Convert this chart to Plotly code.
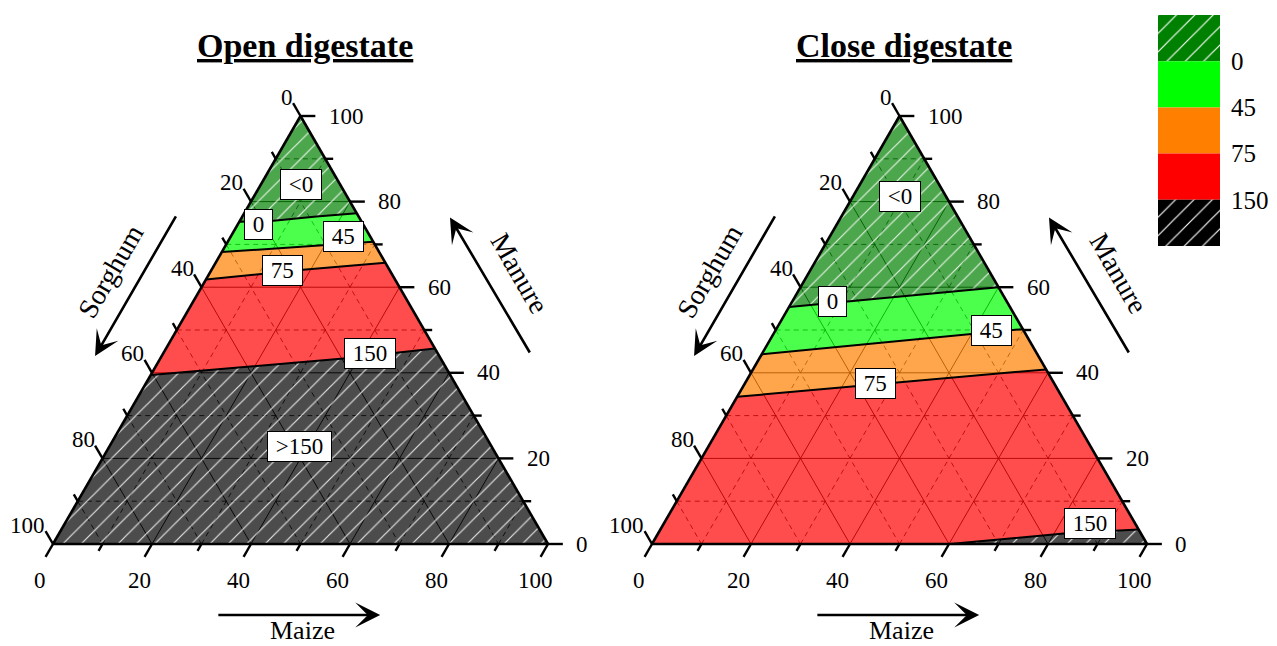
import plotly.graph_objects as go

W, H = 1277, 646
FONT = "Liberation Serif, Times New Roman, serif"

# ---------------- data ----------------
tick_major = [0, 20, 40, 60, 80, 100]
tick_minor = [10, 30, 50, 70, 90]
grid_solid = [20, 40, 60, 80]
grid_dash = [10, 30, 50, 70, 90]

legend_bounds = ["0", "45", "75", "150"]
region_colors = ["#008000", "#00ff00", "#ff8000", "#ff0000", "#000000"]
region_hatch = ["/", "", "", "", "/"]

# Open digestate iso-lines: (Maize %, Manure %) from left edge to right edge
open_iso_maize = [[0, 6.8, 15.0, 22.7], [0, 15.2, 29.4], [0, 17.9, 34.3], [0, 37.6, 54.3]]
open_iso_manure = [[75.3, 75.5, 76.5, 77.3], [68.2, 69.5, 70.6], [61.8, 64.0, 65.7], [39.5, 43.4, 45.7]]
open_label_text = ["&lt;0", "0", "45", "75", "150", "&gt;150"]
open_label_maize = [8.15, 4.15, 22.8, 14.4, 41.8, 38.45]
open_label_manure = [84.1, 74.7, 71.8, 64.0, 44.6, 22.7]

# Close digestate iso-lines
close_iso_maize = [[0, 21.2, 40.0], [0, 21.3, 49.8], [0, 32.5, 59.2], [60.2, 82.5, 96.6]]
close_iso_manure = [[55.4, 57.8, 60.0], [44.3, 46.9, 50.2], [34.4, 37.9, 40.8], [0, 2.5, 3.4]]
close_label_text = ["&lt;0", "0", "45", "75", "150"]
close_label_maize = [9.55, 8.1, 43.55, 26.35, 86.1]
close_label_manure = [81.1, 56.6, 49.9, 37.5, 4.8]

titles = ["Open digestate", "Close digestate"]
axis_names = ["Sorghum", "Manure", "Maize"]

# ---------------- helpers ----------------
def xy(m, a):
    return m + a / 2.0, a

CORNER = {0: (0.0, 100.0), 1: (100.0, 0.0), 2: (0.0, 0.0)}

def edge_pos(m, a):
    s = 100 - m - a
    if abs(s) < 1e-6:
        return (100 - a) / 100.0
    if abs(a) < 1e-6:
        return 1 + (100 - m) / 100.0
    return 2 + a / 100.0

def walk(s1, s2):
    d = (s2 - s1) % 3
    pts = []
    for k in (1, 2, 3):
        off = (k - s1) % 3
        if 0 < off < d:
            pts.append((off, CORNER[k % 3]))
    pts.sort()
    return [p for _, p in pts]

def region(upper, lower):
    if upper is None:
        return lower[::-1] + walk(edge_pos(*lower[0]), edge_pos(*lower[-1]))
    if lower is None:
        return upper + walk(edge_pos(*upper[-1]), edge_pos(*upper[0]))
    return (upper + walk(edge_pos(*upper[-1]), edge_pos(*lower[-1])) + lower[::-1]
            + walk(edge_pos(*lower[0]), edge_pos(*upper[0])))

def rgba(h, al):
    h = h.lstrip("#")
    return "rgba(%d,%d,%d,%.2f)" % (int(h[0:2], 16), int(h[2:4], 16), int(h[4:6], 16), al)

def seg_trace(segs, xa, ya, width, dash="solid", color="black"):
    X, Y = [], []
    for (m1, a1), (m2, a2) in segs:
        x1, y1 = xy(m1, a1)
        x2, y2 = xy(m2, a2)
        X += [x1, x2, None]
        Y += [y1, y2, None]
    return go.Scatter(x=X, y=Y, mode="lines", xaxis=xa, yaxis=ya, hoverinfo="skip",
                      line=dict(color=color, width=width, dash=dash), showlegend=False)

def grid_segs(vals):
    s = []
    for v in vals:
        s.append(((0, v), (100 - v, v)))          # Manure constant
        s.append(((0, 100 - v), (100 - v, 0)))    # Sorghum constant
        s.append(((v, 0), (v, 100 - v)))          # Maize constant
    return s

def tick_segs(vals, t):
    s = []
    for v in vals:
        s.append(((0, 100 - v), (-t, 100 - v + t)))      # Sorghum (left)
        s.append(((v, 0), (v, -t)))                      # Maize (bottom)
        s.append(((100 - v, v), (100 - v + t, v)))       # Manure (right)
    return s

fig = go.Figure()
annotations = []

panels = [
    (open_iso_maize, open_iso_manure, open_label_text, open_label_maize, open_label_manure, "x", "y"),
    (close_iso_maize, close_iso_manure, close_label_text, close_label_maize, close_label_manure, "x2", "y2"),
]

for pi, (iso_m, iso_a, ltxt, lm, la, xa, ya) in enumerate(panels):
    # grid under the translucent fills
    fig.add_trace(seg_trace(grid_segs(grid_dash), xa, ya, 0.8, dash="5px,4px"))
    fig.add_trace(seg_trace(grid_segs(grid_solid), xa, ya, 0.9))
    # regions
    bounds = [list(zip(m, a)) for m, a in zip(iso_m, iso_a)]
    pairs = [(None, bounds[0])] + [(bounds[i], bounds[i + 1]) for i in range(len(bounds) - 1)] + [(bounds[-1], None)]
    for ri, (u, l) in enumerate(pairs):
        pts = region(u, l)
        X = [xy(m, a)[0] for m, a in pts]
        Y = [xy(m, a)[1] for m, a in pts]
        col = rgba(region_colors[ri], 0.7)
        kw = {}
        if region_hatch[ri]:
            kw["fillpattern"] = dict(shape="/", fgcolor="rgba(255,255,255,0.85)", bgcolor=col,
                                     size=13, solidity=0.09, fillmode="replace")
        fig.add_trace(go.Scatter(x=X + [X[0]], y=Y + [Y[0]], mode="lines", fill="toself",
                                 fillcolor=col, line=dict(width=0), xaxis=xa, yaxis=ya,
                                 hoverinfo="skip", showlegend=False, **kw))
    # iso-lines
    for b in bounds:
        X = [xy(m, a)[0] for m, a in b]
        Y = [xy(m, a)[1] for m, a in b]
        fig.add_trace(go.Scatter(x=X, y=Y, mode="lines", line=dict(color="black", width=2),
                                 xaxis=xa, yaxis=ya, hoverinfo="skip", showlegend=False))
    # triangle outline and ticks
    outline = [((0, 100), (100, 0)), ((100, 0), (0, 0)), ((0, 0), (0, 100))]
    fig.add_trace(seg_trace(outline, xa, ya, 2.6))
    fig.add_trace(seg_trace(tick_segs(tick_major, 3.0), xa, ya, 2.4))
    fig.add_trace(seg_trace(tick_segs(tick_minor, 1.6), xa, ya, 2.4))

    tf = dict(family=FONT, size=23, color="black")
    for v in tick_major:
        x, y = xy(0, 100 - v)
        annotations.append(dict(x=x, y=y, xref=xa, yref=ya, text=str(v), showarrow=False,
                                xanchor="right", yanchor="middle", xshift=-6, yshift=19, font=tf))
        x, y = xy(100 - v, v)
        annotations.append(dict(x=x, y=y, xref=xa, yref=ya, text=str(v), showarrow=False,
                                xanchor="left", yanchor="middle", xshift=26, font=tf))
        x, y = xy(v, 0)
        annotations.append(dict(x=x, y=y, xref=xa, yref=ya, text=str(v), showarrow=False,
                                xanchor="center", yanchor="middle", xshift=-13, yshift=-36, font=tf))
    # iso labels
    for t, m, a in zip(ltxt, lm, la):
        x, y = xy(m, a)
        annotations.append(dict(x=x, y=y, xref=xa, yref=ya, text="\u00a0" + t + "\u00a0", showarrow=False,
                                bgcolor="white", bordercolor="black", borderwidth=1, borderpad=2,
                                xanchor="center", yanchor="middle", font=tf))
    # axis arrows + names
    arrows = [((8.5 - 43.9 / 2, 43.9), (25.0 - 76.9 / 2, 76.9)),
              ((80.2 - 76.3 / 2, 76.3), (96.5 - 44.4 / 2, 44.4)),
              ((66.1 + 16.6 / 2, -16.6), (33.1 + 16.6 / 2, -16.6))]
    for (hm, ha), (tm, ta) in arrows:
        hx, hy = xy(hm, ha)
        tx, ty = xy(tm, ta)
        annotations.append(dict(x=hx, y=hy, ax=tx, ay=ty, xref=xa, yref=ya, axref=xa, ayref=ya,
                                text="", showarrow=True, arrowhead=3, arrowsize=1.6,
                                arrowwidth=2.6, arrowcolor="black", standoff=0, startstandoff=0))
    name_pos = [(11.65, 63.6, -60, 28), (94.3, 63.2, 60, 28), (50.5, -20.1, 0, 26)]
    for nm, (X, Y, ang, fs) in zip(axis_names, name_pos):
        annotations.append(dict(x=X, y=Y, xref=xa, yref=ya, text=nm, showarrow=False,
                                textangle=ang, xanchor="center", yanchor="middle",
                                font=dict(family=FONT, size=fs, color="black")))
    annotations.append(dict(x=51, y=116.5, xref=xa, yref=ya, text="<b><u>" + titles[pi] + "</u></b>",
                            showarrow=False, xanchor="center", yanchor="middle",
                            font=dict(family=FONT, size=34, color="black")))

# legend / colour key: one block per class, top = "<0"
for i, (col, hat) in enumerate(zip(region_colors, region_hatch)):
    mk = dict(color=col, line=dict(width=0))
    if hat:
        mk["pattern"] = dict(shape=hat, fgcolor="white", bgcolor=col, fgopacity=1,
                             size=13, solidity=0.09, fillmode="overlay")
    fig.add_trace(go.Bar(x=[0], y=[1], base=[len(region_colors) - 1 - i], width=1, marker=mk,
                         xaxis="x3", yaxis="y3", hoverinfo="skip", showlegend=False))

yr = [-(H - 544) / 4.28, 544 / 4.28]
hidden = dict(visible=False, fixedrange=True)
fig.update_layout(
    width=W, height=H, autosize=False,
    margin=dict(l=0, r=0, t=0, b=0),
    paper_bgcolor="white", plot_bgcolor="rgba(0,0,0,0)",
    showlegend=False, barmode="overlay",
    xaxis=dict(domain=[0, 600 / W], range=[-53 / 4.95, 547 / 4.95], **hidden),
    yaxis=dict(domain=[0, 1], range=yr, **hidden),
    xaxis2=dict(domain=[600 / W, 1], range=[-52 / 4.95, (W - 652) / 4.95], anchor="y2", **hidden),
    yaxis2=dict(domain=[0, 1], range=yr, anchor="x2", **hidden),
    xaxis3=dict(domain=[1158 / W, 1220 / W], range=[-0.5, 0.5], anchor="y3", **hidden),
    yaxis3=dict(domain=[1 - 246 / H, 1 - 15 / H], range=[0, 5], anchor="x3", side="right",
                tickvals=[1, 2, 3, 4], ticktext=legend_bounds[::-1], showgrid=False,
                zeroline=False, showline=False, ticks="", ticklabelstandoff=10,
                tickfont=dict(family=FONT, size=25, color="black"), fixedrange=True),
    annotations=annotations,
)

fig.write_html("out.html", config={"displayModeBar": False},
               post_script="document.body.style.margin='0px';document.body.style.overflow='hidden';")
